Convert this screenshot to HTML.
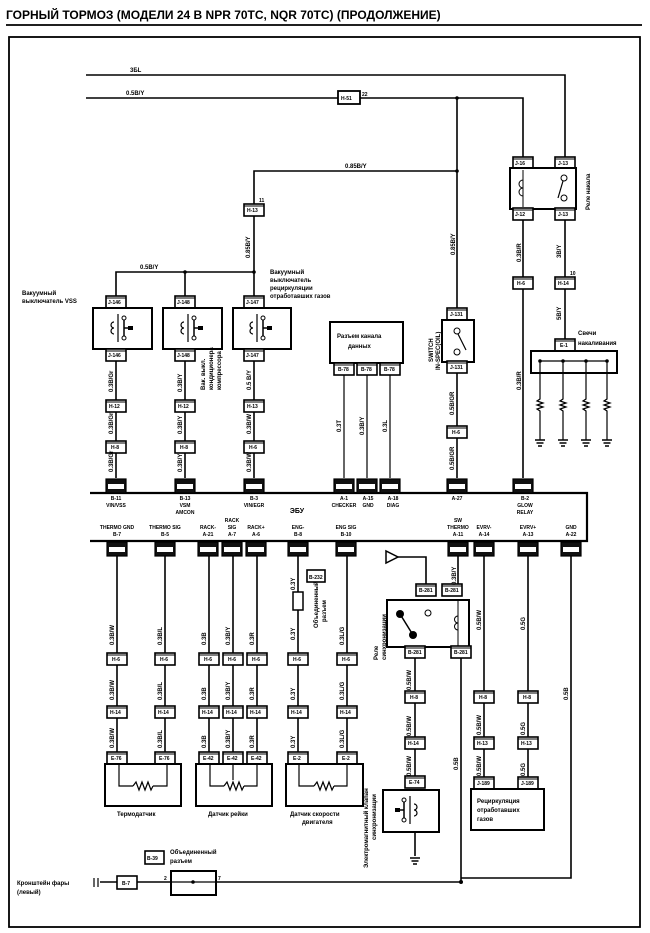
<!DOCTYPE html>
<html><head><meta charset="utf-8"><style>
html,body{margin:0;padding:0;background:#fff;}
svg{display:block;font-family:"Liberation Sans","DejaVu Sans",sans-serif;}
.t{font-size:6px;font-weight:bold;}
.c{font-size:5px;font-weight:bold;}
.w{fill:none;stroke:#000;stroke-width:1.6;}
.b{fill:none;stroke:#000;stroke-width:2.2;}
</style></head><body>
<svg width="650" height="933" viewBox="0 0 650 933" xmlns="http://www.w3.org/2000/svg">
<defs>
<g id="cn"><rect x="-10" y="-6" width="20" height="12" fill="#fff" stroke="#000" stroke-width="1.6"/><line x1="-10" y1="-4" x2="10" y2="-4" stroke="#000" stroke-width="1"/></g>
<g id="cd"><rect x="-10" y="-7" width="20" height="14" fill="#111" stroke="#000" stroke-width="1.2"/><rect x="-8" y="-2" width="16" height="5" fill="#fff"/></g>
<g id="rs"><polyline points="0,-10 0,-6 -3,-4 3,-2 -3,0 3,2 -3,4 0,6 0,10" fill="none" stroke="#000" stroke-width="1.2"/></g>
<g id="gd"><line x1="-5" y1="0" x2="5" y2="0" stroke="#000" stroke-width="1.5"/><line x1="-3.5" y1="3" x2="3.5" y2="3" stroke="#000" stroke-width="1.5"/><line x1="-2" y1="6" x2="2" y2="6" stroke="#000" stroke-width="1.5"/></g>
<g id="sw"><line x1="0" y1="-14" x2="0" y2="14" stroke="#000" stroke-width="1.2"/><path d="M-4,-6 a3,3 0 0,0 0,6 a3,3 0 0,0 0,6" fill="none" stroke="#000" stroke-width="1.2"/><line x1="6" y1="-12" x2="6" y2="12" stroke="#000" stroke-width="1.5"/><circle cx="6" cy="-10" r="2" fill="#fff" stroke="#000"/><circle cx="6" cy="10" r="2" fill="#fff" stroke="#000"/><line x1="6" y1="0" x2="14" y2="0" stroke="#000" stroke-width="1.5"/><rect x="10" y="-2" width="5" height="4" fill="#000"/></g>
</defs>
<!-- title -->
<text x="6" y="19" font-size="12" font-weight="bold">ГОРНЫЙ ТОРМОЗ (МОДЕЛИ 24 В NPR 70TC, NQR 70TC) (ПРОДОЛЖЕНИЕ)</text>
<line x1="6" y1="25" x2="642" y2="25" stroke="#000" stroke-width="1.8"/>
<rect x="9" y="37" width="631" height="890" fill="none" stroke="#000" stroke-width="1.8"/>

<!-- top power lines -->
<polyline class="w" points="86,75 565,75 565,160"/>
<text class="t" x="130" y="72">3БL</text>
<polyline class="w" points="86,98 457,98 523,98 523,160"/>
<text class="t" x="126" y="95">0.5B/Y</text>
<rect x="338" y="91" width="22" height="13" fill="#fff" stroke="#000" stroke-width="1.8"/><text class="c" x="341" y="100">H-51</text><text class="c" x="362" y="96">22</text>
<line class="w" x1="457" y1="98" x2="457" y2="310"/>
<circle cx="457" cy="98" r="1.8"/>
<polyline class="w" points="254,205 254,171 457,171"/>
<circle cx="457" cy="171" r="1.8"/>
<text class="t" x="345" y="168">0.85B/Y</text>
<use href="#cn" x="254" y="210"/><text class="c" x="247" y="212">H-13</text><text class="c" x="259" y="202">11</text>
<line class="w" x1="254" y1="216" x2="254" y2="302"/>
<text class="t" transform="translate(250,258) rotate(-90)">0.85B/Y</text>
<text class="t" transform="translate(455,255) rotate(-90)">0.85B/Y</text>
<polyline class="w" points="116,302 116,272 254,272"/>
<line class="w" x1="185" y1="272" x2="185" y2="302"/>
<circle cx="185" cy="272" r="1.8"/><circle cx="254" cy="272" r="1.8"/>
<text class="t" x="140" y="269">0.5B/Y</text>
<text class="t" x="270" y="274">Вакуумный</text><text class="t" x="270" y="282">выключатель</text><text class="t" x="270" y="290">рециркуляции</text><text class="t" x="270" y="298">отработавших газов</text>
<text class="t" x="22" y="295">Вакуумный</text><text class="t" x="22" y="303">выключатель VSS</text>

<!-- relay -->
<use href="#cn" x="523" y="163"/><text class="c" x="515" y="165">J-16</text>
<use href="#cn" x="565" y="163"/><text class="c" x="558" y="165">J-13</text>
<rect x="510" y="168" width="66" height="41" fill="#fff" stroke="#000" stroke-width="2"/>
<line x1="523" y1="170" x2="523" y2="207" stroke="#000"/><path d="M523,180 a3,3 0 0,0 0,8 a3,3 0 0,0 0,8" fill="none" stroke="#000"/>
<circle cx="564" cy="178" r="3" fill="#fff" stroke="#000"/><circle cx="564" cy="198" r="3" fill="#fff" stroke="#000"/><line x1="563" y1="181" x2="558" y2="198" stroke="#000" stroke-width="1.2"/>
<text class="t" transform="translate(590,210) rotate(-90)">Реле накала</text>
<use href="#cn" x="523" y="214"/><text class="c" x="515" y="216">J-12</text>
<use href="#cn" x="565" y="214"/><text class="c" x="558" y="216">J-13</text>
<line class="w" x1="523" y1="220" x2="523" y2="478"/>
<line class="w" x1="565" y1="220" x2="565" y2="340"/>
<text class="t" transform="translate(521,262) rotate(-90)">0.3B/R</text>
<text class="t" transform="translate(561,258) rotate(-90)">3B/Y</text>
<use href="#cn" x="523" y="283"/><text class="c" x="517" y="285">H-6</text>
<use href="#cn" x="565" y="283"/><text class="c" x="558" y="285">H-14</text>
<text class="c" x="570" y="275">10</text>
<text class="t" transform="translate(561,320) rotate(-90)">5B/Y</text>
<text class="t" transform="translate(521,390) rotate(-90)">0.3B/R</text>
<!-- heater -->
<use href="#cn" x="565" y="345"/><text class="c" x="560" y="347">E-1</text>
<text class="t" x="578" y="335">Свечи</text><text class="t" x="578" y="345">накаливания</text>
<rect x="531" y="351" width="86" height="22" fill="#fff" stroke="#000" stroke-width="2"/>
<line x1="540" y1="361" x2="607" y2="361" stroke="#000" stroke-width="1.2"/>
<g stroke="#000" stroke-width="1.2">
<line x1="540" y1="361" x2="540" y2="440"/><line x1="563" y1="361" x2="563" y2="440"/><line x1="586" y1="361" x2="586" y2="440"/><line x1="607" y1="361" x2="607" y2="440"/>
</g>
<circle cx="540" cy="361" r="1.8"/><circle cx="563" cy="361" r="1.8"/><circle cx="586" cy="361" r="1.8"/><circle cx="607" cy="361" r="1.8"/>
<rect x="536" y="395" width="8" height="20" fill="#fff"/><use href="#rs" x="540" y="405"/>
<rect x="559" y="395" width="8" height="20" fill="#fff"/><use href="#rs" x="563" y="405"/>
<rect x="582" y="395" width="8" height="20" fill="#fff"/><use href="#rs" x="586" y="405"/>
<rect x="603" y="395" width="8" height="20" fill="#fff"/><use href="#rs" x="607" y="405"/>
<use href="#gd" x="540" y="440"/><use href="#gd" x="563" y="440"/><use href="#gd" x="586" y="440"/><use href="#gd" x="607" y="440"/>

<!-- vacuum switches -->
<g>
<use href="#cn" x="116" y="302"/><text class="c" x="108" y="304">J-146</text>
<rect x="93" y="308" width="59" height="41" fill="#fff" stroke="#000" stroke-width="2"/><use href="#sw" x="118" y="328"/>
<use href="#cn" x="116" y="355"/><text class="c" x="108" y="357">J-146</text>
<use href="#cn" x="185" y="302"/><text class="c" x="177" y="304">J-148</text>
<rect x="163" y="308" width="59" height="41" fill="#fff" stroke="#000" stroke-width="2"/><use href="#sw" x="188" y="328"/>
<use href="#cn" x="185" y="355"/><text class="c" x="177" y="357">J-148</text>
<use href="#cn" x="254" y="302"/><text class="c" x="246" y="304">J-147</text>
<rect x="233" y="308" width="58" height="41" fill="#fff" stroke="#000" stroke-width="2"/><use href="#sw" x="257" y="328"/>
<use href="#cn" x="254" y="355"/><text class="c" x="246" y="357">J-147</text>
</g>
<line class="w" x1="116" y1="361" x2="116" y2="478"/>
<line class="w" x1="185" y1="361" x2="185" y2="478"/>
<line class="w" x1="254" y1="361" x2="254" y2="478"/>
<use href="#cn" x="116" y="406"/><text class="c" x="109" y="408">H-12</text>
<use href="#cn" x="185" y="406"/><text class="c" x="178" y="408">H-12</text>
<use href="#cn" x="254" y="406"/><text class="c" x="247" y="408">H-13</text>
<use href="#cn" x="116" y="447"/><text class="c" x="111" y="449">H-8</text>
<use href="#cn" x="185" y="447"/><text class="c" x="180" y="449">H-8</text>
<use href="#cn" x="254" y="447"/><text class="c" x="249" y="449">H-6</text>
<g class="t">
<text transform="translate(113,392) rotate(-90)">0.3B/Gr</text>
<text transform="translate(113,434) rotate(-90)">0.3B/Gr</text>
<text transform="translate(113,472) rotate(-90)">0.3B/Gr</text>
<text transform="translate(182,392) rotate(-90)">0.3B/Y</text>
<text transform="translate(182,434) rotate(-90)">0.3B/Y</text>
<text transform="translate(182,472) rotate(-90)">0.3B/Y</text>
<text transform="translate(251,390) rotate(-90)">0.5 B/Y</text>
<text transform="translate(251,434) rotate(-90)">0.3B/W</text>
<text transform="translate(251,472) rotate(-90)">0.3B/W</text>
<text transform="translate(205,390) rotate(-90)">Вак. выкл.</text>
<text transform="translate(213,390) rotate(-90)">кондиционера</text>
<text transform="translate(221,390) rotate(-90)">компрессора</text>
</g>

<!-- data link -->
<rect x="330" y="322" width="73" height="41" fill="#fff" stroke="#000" stroke-width="2"/>
<text class="t" x="337" y="338">Разъем канала</text><text class="t" x="348" y="348">данных</text>
<use href="#cn" x="344" y="369"/><text class="c" x="338" y="371">B-78</text>
<use href="#cn" x="367" y="369"/><text class="c" x="361" y="371">B-78</text>
<use href="#cn" x="390" y="369"/><text class="c" x="384" y="371">B-78</text>
<g stroke="#000" stroke-width="1.2"><line x1="344" y1="375" x2="344" y2="478"/><line x1="367" y1="375" x2="367" y2="478"/><line x1="390" y1="375" x2="390" y2="478"/></g>
<g class="t"><text transform="translate(341,432) rotate(-90)">0.3T</text><text transform="translate(364,435) rotate(-90)">0.3B/Y</text><text transform="translate(387,432) rotate(-90)">0.3L</text></g>

<!-- J-131 -->
<use href="#cn" x="457" y="314"/><text class="c" x="450" y="316">J-131</text>
<rect x="442" y="320" width="32" height="42" fill="#fff" stroke="#000" stroke-width="2"/>
<circle cx="457" cy="331" r="3" fill="#fff" stroke="#000"/><circle cx="457" cy="352" r="3" fill="#fff" stroke="#000"/><line x1="458" y1="334" x2="466" y2="350" stroke="#000" stroke-width="1.2"/>
<use href="#cn" x="457" y="367"/><text class="c" x="450" y="369">J-131</text>
<text class="t" transform="translate(433,362) rotate(-90)">SWITCH</text><text class="t" transform="translate(440,370) rotate(-90)">IN-SPEC(OIL)</text>
<line class="w" x1="457" y1="373" x2="457" y2="478"/>
<use href="#cn" x="457" y="432"/><text class="c" x="452" y="434">H-6</text>
<g class="t"><text transform="translate(454,415) rotate(-90)">0.5B/GR</text><text transform="translate(454,470) rotate(-90)">0.5B/GR</text></g>

<!-- ECU -->
<polyline class="b" points="90,493 587,493 587,541 90,541"/>
<g>
<use href="#cd" x="116" y="486"/><use href="#cd" x="185" y="486"/><use href="#cd" x="254" y="486"/>
<use href="#cd" x="344" y="486"/><use href="#cd" x="367" y="486"/><use href="#cd" x="390" y="486"/>
<use href="#cd" x="457" y="486"/><use href="#cd" x="523" y="486"/>
</g>
<g class="c" text-anchor="middle">
<text x="116" y="500">B-11</text><text x="116" y="507">VIN/VSS</text>
<text x="185" y="500">B-13</text><text x="185" y="507">VSM</text><text x="185" y="514">AMCON</text>
<text x="254" y="500">B-3</text><text x="254" y="507">VIN/EGR</text>
<text x="344" y="500">A-1</text><text x="344" y="507">CHECKER</text>
<text x="368" y="500">A-15</text><text x="368" y="507">GND</text>
<text x="393" y="500">A-18</text><text x="393" y="507">DIAG</text>
<text x="457" y="500">A-27</text>
<text x="525" y="500">B-2</text><text x="525" y="507">GLOW</text><text x="525" y="514">RELAY</text>
<text x="297" y="513" font-size="7">ЭБУ</text>
<text x="117" y="529">THERMO GND</text><text x="117" y="536">B-7</text>
<text x="165" y="529">THERMO SIG</text><text x="165" y="536">B-5</text>
<text x="208" y="529">RACK-</text><text x="208" y="536">A-21</text>
<text x="232" y="522">RACK</text><text x="232" y="529">SIG</text><text x="232" y="536">A-7</text>
<text x="256" y="529">RACK+</text><text x="256" y="536">A-6</text>
<text x="298" y="529">ENG-</text><text x="298" y="536">B-8</text>
<text x="346" y="529">ENG SIG</text><text x="346" y="536">B-10</text>
<text x="458" y="522">SW</text><text x="458" y="529">THERMO</text><text x="458" y="536">A-11</text>
<text x="484" y="529">EVRV-</text><text x="484" y="536">A-14</text>
<text x="528" y="529">EVRV+</text><text x="528" y="536">A-13</text>
<text x="571" y="529">GND</text><text x="571" y="536">A-22</text>
</g>
<g>
<use href="#cd" x="117" y="549"/><use href="#cd" x="165" y="549"/><use href="#cd" x="208" y="549"/><use href="#cd" x="232" y="549"/><use href="#cd" x="256" y="549"/><use href="#cd" x="298" y="549"/><use href="#cd" x="346" y="549"/><use href="#cd" x="458" y="549"/><use href="#cd" x="484" y="549"/><use href="#cd" x="528" y="549"/><use href="#cd" x="571" y="549"/>
</g>
<!-- lower wires -->
<g class="w">
<line x1="117" y1="556" x2="117" y2="758"/><line x1="165" y1="556" x2="165" y2="758"/>
<line x1="209" y1="556" x2="209" y2="758"/><line x1="233" y1="556" x2="233" y2="758"/><line x1="257" y1="556" x2="257" y2="758"/>
<line x1="298" y1="556" x2="298" y2="592"/><line x1="298" y1="610" x2="298" y2="758"/>
<line x1="347" y1="556" x2="347" y2="758"/>
<line x1="458" y1="556" x2="458" y2="585"/><line x1="484" y1="556" x2="484" y2="782"/><line x1="528" y1="556" x2="528" y2="782"/>
<polyline points="571,556 571,878 461,878"/>
<line x1="461" y1="655" x2="461" y2="882"/>
<line x1="415" y1="655" x2="415" y2="785"/>
<line x1="415" y1="832" x2="415" y2="856"/>
<polyline points="100,882 171,882"/><polyline points="216,882 461,882"/>
<polyline points="398,557 426,557 426,585"/>
</g>
<rect x="293" y="592" width="10" height="18" fill="#fff" stroke="#000" stroke-width="1.5"/>
<rect x="307" y="570" width="18" height="12" fill="#fff" stroke="#000" stroke-width="1.6"/><text class="c" x="309" y="579">B-232</text>
<text class="t" transform="translate(318,628) rotate(-90)">Объединенный</text><text class="t" transform="translate(326,622) rotate(-90)">разъем</text>
<circle cx="461" cy="882" r="2"/>
<polygon points="386,551 386,563 398,557" fill="#fff" stroke="#000" stroke-width="1.5"/>
<!-- sync relay -->
<use href="#cn" x="426" y="590"/><text class="c" x="419" y="592">B-281</text>
<use href="#cn" x="452" y="590"/><text class="c" x="445" y="592">B-281</text>
<rect x="387" y="600" width="82" height="47" fill="#fff" stroke="#000" stroke-width="2"/>
<circle cx="400" cy="614" r="4"/><circle cx="413" cy="635" r="4"/><line x1="400" y1="614" x2="413" y2="635" stroke="#000" stroke-width="1.5"/>
<circle cx="428" cy="613" r="3" fill="#fff" stroke="#000"/>
<line x1="458" y1="600" x2="458" y2="647" stroke="#000"/><path d="M458,616 a3,3 0 0,0 0,7 a3,3 0 0,0 0,7" fill="none" stroke="#000"/>
<use href="#cn" x="415" y="652"/><text class="c" x="408" y="654">B-281</text>
<use href="#cn" x="461" y="652"/><text class="c" x="454" y="654">B-281</text>
<text class="t" transform="translate(378,660) rotate(-90)">Реле</text><text class="t" transform="translate(386,660) rotate(-90)">синхронизации</text>
<use href="#cn" x="415" y="697"/><text class="c" x="410" y="699">H-8</text>
<use href="#cn" x="415" y="743"/><text class="c" x="408" y="745">H-14</text>
<use href="#cn" x="415" y="782"/><text class="c" x="409" y="784">E-74</text>
<rect x="383" y="790" width="56" height="42" fill="#fff" stroke="#000" stroke-width="2"/><use href="#sw" x="410" y="810" transform="rotate(180 410 810) translate(0 0)"/>
<use href="#gd" x="415" y="858"/>
<text class="t" transform="translate(368,868) rotate(-90)">Электромагнитный клапан</text><text class="t" transform="translate(376,840) rotate(-90)">синхронизации</text>
<!-- EGR -->
<use href="#cn" x="484" y="697"/><text class="c" x="479" y="699">H-8</text>
<use href="#cn" x="528" y="697"/><text class="c" x="523" y="699">H-8</text>
<use href="#cn" x="484" y="743"/><text class="c" x="477" y="745">H-13</text>
<use href="#cn" x="528" y="743"/><text class="c" x="521" y="745">H-13</text>
<use href="#cn" x="484" y="783"/><text class="c" x="477" y="785">J-189</text>
<use href="#cn" x="528" y="783"/><text class="c" x="521" y="785">J-189</text>
<rect x="471" y="789" width="73" height="41" fill="#fff" stroke="#000" stroke-width="2"/>
<text class="t" x="477" y="803">Рециркуляция</text><text class="t" x="477" y="812">отработавших</text><text class="t" x="477" y="821">газов</text>
<g class="t">
<text transform="translate(411,690) rotate(-90)">0.5B/W</text><text transform="translate(411,736) rotate(-90)">0.5B/W</text><text transform="translate(411,776) rotate(-90)">0.5B/W</text>
<text transform="translate(456,585) rotate(-90)">0.3B/Y</text>
<text transform="translate(481,630) rotate(-90)">0.5B/W</text><text transform="translate(481,735) rotate(-90)">0.5B/W</text><text transform="translate(481,776) rotate(-90)">0.5B/W</text>
<text transform="translate(525,630) rotate(-90)">0.5G</text><text transform="translate(525,735) rotate(-90)">0.5G</text><text transform="translate(525,776) rotate(-90)">0.5G</text>
<text transform="translate(458,770) rotate(-90)">0.5B</text><text transform="translate(568,700) rotate(-90)">0.5B</text>
</g>
<!-- sensors -->
<g>
<use href="#cn" x="117" y="659"/><text class="c" x="112" y="661">H-6</text>
<use href="#cn" x="165" y="659"/><text class="c" x="160" y="661">H-6</text>
<use href="#cn" x="209" y="659"/><text class="c" x="204" y="661">H-6</text>
<use href="#cn" x="233" y="659"/><text class="c" x="228" y="661">H-6</text>
<use href="#cn" x="257" y="659"/><text class="c" x="252" y="661">H-6</text>
<use href="#cn" x="298" y="659"/><text class="c" x="293" y="661">H-6</text>
<use href="#cn" x="347" y="659"/><text class="c" x="342" y="661">H-6</text>
<use href="#cn" x="117" y="712"/><text class="c" x="110" y="714">H-14</text>
<use href="#cn" x="165" y="712"/><text class="c" x="158" y="714">H-14</text>
<use href="#cn" x="209" y="712"/><text class="c" x="202" y="714">H-14</text>
<use href="#cn" x="233" y="712"/><text class="c" x="226" y="714">H-14</text>
<use href="#cn" x="257" y="712"/><text class="c" x="250" y="714">H-14</text>
<use href="#cn" x="298" y="712"/><text class="c" x="291" y="714">H-14</text>
<use href="#cn" x="347" y="712"/><text class="c" x="340" y="714">H-14</text>
<use href="#cn" x="117" y="758"/><text class="c" x="111" y="760">E-76</text>
<use href="#cn" x="165" y="758"/><text class="c" x="159" y="760">E-76</text>
<use href="#cn" x="209" y="758"/><text class="c" x="203" y="760">E-42</text>
<use href="#cn" x="233" y="758"/><text class="c" x="227" y="760">E-42</text>
<use href="#cn" x="257" y="758"/><text class="c" x="251" y="760">E-42</text>
<use href="#cn" x="298" y="758"/><text class="c" x="293" y="760">E-2</text>
<use href="#cn" x="347" y="758"/><text class="c" x="342" y="760">E-2</text>
</g>
<rect x="105" y="764" width="76" height="42" fill="#fff" stroke="#000" stroke-width="2"/>
<polyline points="119,764 119,786 133,786" fill="none" stroke="#000" stroke-width="1.2"/><polyline points="153,786 167,786 167,764" fill="none" stroke="#000" stroke-width="1.2"/>
<polyline points="133,786 136,782 139,790 142,782 145,790 148,782 151,790 153,786" fill="none" stroke="#000" stroke-width="1.2"/>
<rect x="196" y="764" width="76" height="42" fill="#fff" stroke="#000" stroke-width="2"/>
<polyline points="210,764 210,786 224,786" fill="none" stroke="#000" stroke-width="1.2"/><polyline points="244,786 257,786 257,764" fill="none" stroke="#000" stroke-width="1.2"/>
<polyline points="224,786 227,782 230,790 233,782 236,790 239,782 242,790 244,786" fill="none" stroke="#000" stroke-width="1.2"/><line x1="233" y1="764" x2="233" y2="780" stroke="#000" stroke-width="1.2"/>
<rect x="286" y="764" width="77" height="42" fill="#fff" stroke="#000" stroke-width="2"/>
<polyline points="299,764 299,786 314,786" fill="none" stroke="#000" stroke-width="1.2"/><polyline points="334,786 347,786 347,764" fill="none" stroke="#000" stroke-width="1.2"/>
<polyline points="314,786 317,782 320,790 323,782 326,790 329,782 332,790 334,786" fill="none" stroke="#000" stroke-width="1.2"/>
<text class="t" x="117" y="816">Термодатчик</text>
<text class="t" x="208" y="816">Датчик рейки</text>
<text class="t" x="290" y="816">Датчик скорости</text><text class="t" x="302" y="824">двигателя</text>
<g class="t">
<text transform="translate(114,645) rotate(-90)">0.3B/W</text><text transform="translate(162,645) rotate(-90)">0.3B/L</text>
<text transform="translate(206,645) rotate(-90)">0.3B</text><text transform="translate(230,645) rotate(-90)">0.3B/Y</text><text transform="translate(254,645) rotate(-90)">0.3R</text>
<text transform="translate(295,640) rotate(-90)">0.3Y</text><text transform="translate(344,645) rotate(-90)">0.3L/G</text><text transform="translate(295,590) rotate(-90)">0.3Y</text>
<text transform="translate(114,700) rotate(-90)">0.3B/W</text><text transform="translate(162,700) rotate(-90)">0.3B/L</text>
<text transform="translate(206,700) rotate(-90)">0.3B</text><text transform="translate(230,700) rotate(-90)">0.3B/Y</text><text transform="translate(254,700) rotate(-90)">0.3R</text>
<text transform="translate(295,700) rotate(-90)">0.3Y</text><text transform="translate(344,700) rotate(-90)">0.3L/G</text>
<text transform="translate(114,748) rotate(-90)">0.3B/W</text><text transform="translate(162,748) rotate(-90)">0.3B/L</text>
<text transform="translate(206,748) rotate(-90)">0.3B</text><text transform="translate(230,748) rotate(-90)">0.3B/Y</text><text transform="translate(254,748) rotate(-90)">0.3R</text>
<text transform="translate(295,748) rotate(-90)">0.3Y</text><text transform="translate(344,748) rotate(-90)">0.3L/G</text>
</g>
<!-- bottom -->
<rect x="145" y="851" width="19" height="13" fill="#fff" stroke="#000" stroke-width="1.6"/><text class="c" x="147" y="860">B-39</text>
<text class="t" x="170" y="854">Объединенный</text><text class="t" x="170" y="863">разъем</text>
<text class="t" x="17" y="885">Кронштейн фары</text><text class="t" x="17" y="894">(левый)</text>
<line x1="94" y1="878" x2="94" y2="887" stroke="#000" stroke-width="1.2"/><line x1="98" y1="878" x2="98" y2="887" stroke="#000" stroke-width="1.2"/>
<rect x="117" y="876" width="20" height="13" fill="#fff" stroke="#000" stroke-width="1.6"/><text class="c" x="122" y="885">B-7</text>
<rect x="171" y="871" width="45" height="24" fill="#fff" stroke="#000" stroke-width="2"/>
<line x1="171" y1="882" x2="216" y2="882" stroke="#000" stroke-width="1.2"/><circle cx="193" cy="882" r="1.8"/>
<text class="c" x="164" y="880">2</text><text class="c" x="218" y="880">7</text>
</svg>
</body></html>
